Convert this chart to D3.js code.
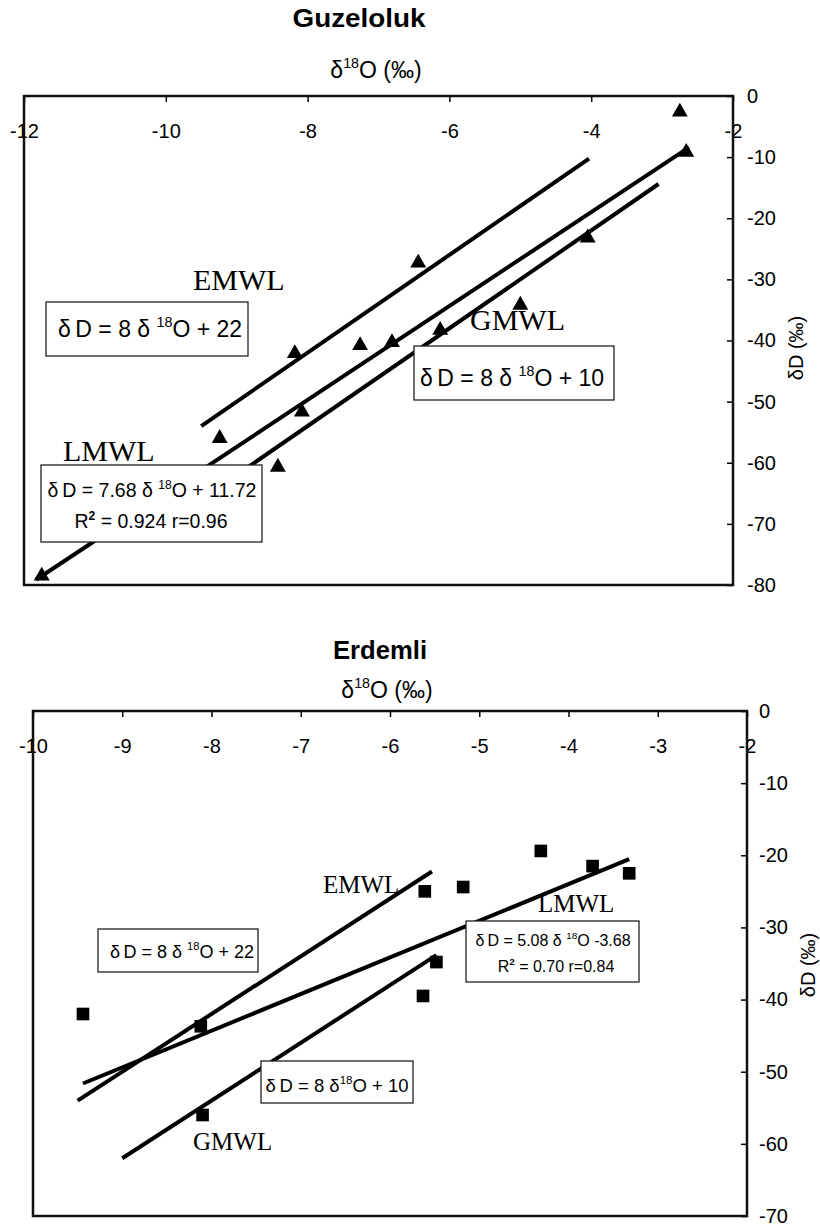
<!DOCTYPE html>
<html>
<head>
<meta charset="utf-8">
<script src="https://cdn.jsdelivr.net/npm/d3@7/dist/d3.min.js"></script>
<style>
  body { margin: 0; background: #fff; }
  text { fill: #000; }
  .sans { font-family: "Liberation Sans", Arial, sans-serif; }
  .serif { font-family: "Liberation Serif", "Times New Roman", serif; }
</style>
</head>
<body>
<script>
// Guzeloluk samples (delta18O, deltaD)
var guzO = [-2.75, -2.66, -4.05, -6.44, -5.0, -6.13, -6.81, -7.26, -8.18, -8.08, -9.24, -8.42, -11.75];
var guzD = [-2.6, -9.2, -23.2, -27.3, -34.2, -38.3, -40.3, -40.8, -42.1, -51.7, -56.0, -60.7, -78.5];

// Erdemli samples
var erdO = [-9.44, -8.12, -8.10, -5.61, -5.18, -5.48, -5.63, -4.31, -3.73, -3.32];
var erdD = [-42.0, -43.7, -56.0, -25.0, -24.4, -34.8, -39.5, -19.4, -21.5, -22.5];

// water lines: dD = slope * d18O + intercept, drawn between from..to
var guzLineNames = ["EMWL", "LMWL", "GMWL"];
var guzSlope = [8, 7.68, 8];
var guzIntercept = [22, 11.72, 10];
var guzFrom = [-9.5, -11.83, -9.5];
var guzTo = [-4.03, -2.62, -3.05];

var erdLineNames = ["EMWL", "LMWL", "GMWL"];
var erdSlope = [8, 5.08, 8];
var erdIntercept = [22, -3.68, 10];
var erdFrom = [-9.5, -9.44, -9.0];
var erdTo = [-5.53, -3.32, -5.48];

// tick labels
var guzXTicks = [-12, -10, -8, -6, -4, -2];
var guzYTicks = [0, -10, -20, -30, -40, -50, -60, -70, -80];
var erdXTicks = [-10, -9, -8, -7, -6, -5, -4, -3, -2];
var erdYTicks = [0, -10, -20, -30, -40, -50, -60, -70];

var svg = d3.select("body").append("svg")
    .attr("width", 820)
    .attr("height", 1228);

svg.append("rect").attr("width", 820).attr("height", 1228).attr("fill", "#fff");

// text with superscript parts: [{t: "..."}, {t: "18", sup: true}, ...]
function richText(g, x, y, parts, size, anchor, cls) {
    var t = g.append("text")
        .attr("class", cls || "sans")
        .attr("x", x)
        .attr("y", y)
        .attr("font-size", size)
        .attr("text-anchor", anchor || "start");
    var up = false;
    parts.forEach(function(p) {
        var s = t.append("tspan").text(p.t);
        if (p.sup) {
            s.attr("dy", -0.42 * size).attr("font-size", size * 0.62);
            up = true;
        } else if (up) {
            s.attr("dy", 0.42 * size);
            up = false;
        }
        if (p.bold) s.attr("font-weight", "bold");
    });
    return t;
}

function box(g, x, y, w, h) {
    g.append("rect")
        .attr("x", x).attr("y", y)
        .attr("width", w).attr("height", h)
        .attr("fill", "#fff")
        .attr("stroke", "#222")
        .attr("stroke-width", 1.3);
}

function drawChart(opt) {
    var g = svg.append("g");
    var x = d3.scaleLinear().domain(opt.xDomain).range([opt.left, opt.right]);
    var y = d3.scaleLinear().domain(opt.yDomain).range([opt.top, opt.bottom]);

    // lines
    var lineData = opt.names.map(function(n, i) {
        return [
            [opt.from[i], opt.slope[i] * opt.from[i] + opt.intercept[i]],
            [opt.to[i], opt.slope[i] * opt.to[i] + opt.intercept[i]]
        ];
    });
    var line = d3.line().x(function(d) { return x(d[0]); }).y(function(d) { return y(d[1]); });
    g.selectAll(".wl")
        .data(lineData)
        .enter().append("path")
        .attr("class", "wl")
        .attr("d", line)
        .attr("fill", "none")
        .attr("stroke", "#000")
        .attr("stroke-width", 4);

    // points
    var sym = d3.symbol().type(opt.symbol).size(opt.symbolSize);
    g.selectAll(".pt")
        .data(opt.xs.map(function(v, i) { return [v, opt.ys[i]]; }))
        .enter().append("path")
        .attr("class", "pt")
        .attr("d", sym)
        .attr("transform", function(d) { return "translate(" + x(d[0]) + "," + y(d[1]) + ")"; })
        .attr("fill", "#000");

    // annotations
    opt.annotate(g);

    // x axis along the top, labels inside the frame
    var xAxis = d3.axisBottom(x)
        .tickValues(opt.xTicks)
        .tickFormat(function(d) { return String(d); })
        .tickSizeInner(6)
        .tickSizeOuter(0)
        .tickPadding(opt.xPad);
    var gx = g.append("g")
        .attr("transform", "translate(0," + opt.top + ")")
        .call(xAxis);
    gx.select(".domain").remove();
    gx.selectAll("line").attr("stroke", "#000").attr("stroke-width", 1.5);
    gx.selectAll("text").attr("class", "sans").attr("font-size", 20).attr("fill", "#000");

    // y axis on the right
    var yAxis = d3.axisRight(y)
        .tickValues(opt.yTicks)
        .tickFormat(function(d) { return String(d); })
        .tickSizeInner(-6)
        .tickSizeOuter(0)
        .tickPadding(opt.yPad);
    var gy = g.append("g")
        .attr("transform", "translate(" + opt.right + ",0)")
        .call(yAxis);
    gy.select(".domain").remove();
    gy.selectAll("line").attr("stroke", "#000").attr("stroke-width", 1.5);
    gy.selectAll("text").attr("class", "sans").attr("font-size", 20).attr("fill", "#000");

    // frame
    g.append("rect")
        .attr("x", opt.left).attr("y", opt.top)
        .attr("width", opt.right - opt.left)
        .attr("height", opt.bottom - opt.top)
        .attr("fill", "none")
        .attr("stroke", "#111")
        .attr("stroke-width", 2.5);

    // titles
    g.append("text")
        .attr("class", "sans")
        .attr("x", opt.titleX).attr("y", opt.titleY)
        .attr("text-anchor", "middle")
        .attr("font-size", 25)
        .attr("font-weight", "bold")
        .attr("textLength", opt.titleW)
        .attr("lengthAdjust", "spacingAndGlyphs")
        .text(opt.title);
    richText(g, opt.xLabelX, opt.xLabelY, [{t: "\u03b4"}, {t: "18", sup: true}, {t: "O (\u2030)"}], 23, "middle");
    g.append("text")
        .attr("class", "sans")
        .attr("transform", "translate(" + opt.yLabelX + "," + opt.yLabelY + ") rotate(-90)")
        .attr("text-anchor", "middle")
        .attr("font-size", 20)
        .text("\u03b4D (\u2030)");
}

// Guzeloluk
drawChart({
    xDomain: [-12, -2], yDomain: [0, -80],
    left: 24, right: 733, top: 96, bottom: 585,
    xs: guzO, ys: guzD,
    names: guzLineNames, slope: guzSlope, intercept: guzIntercept, from: guzFrom, to: guzTo,
    symbol: d3.symbolTriangle, symbolSize: 110,
    xTicks: guzXTicks, yTicks: guzYTicks,
    xPad: 22, yPad: 14,
    title: "Guzeloluk", titleX: 359, titleY: 27, titleW: 133,
    xLabelX: 376, xLabelY: 78,
    yLabelX: 803, yLabelY: 348,
    annotate: function(g) {
        g.append("text").attr("class", "serif").attr("x", 193).attr("y", 290).attr("font-size", 30).text("EMWL");
        box(g, 46, 302, 202, 54);
        richText(g, 150, 337, [{t: "\u03b4\u2009D = 8 \u03b4 "}, {t: "18", sup: true}, {t: "O + 22"}], 23, "middle");
        g.append("text").attr("class", "serif").attr("x", 470).attr("y", 330).attr("font-size", 30).text("GMWL");
        box(g, 414, 346, 200, 54);
        richText(g, 512, 386, [{t: "\u03b4\u2009D = 8 \u03b4 "}, {t: "18", sup: true}, {t: "O + 10"}], 23, "middle");
        g.append("text").attr("class", "serif").attr("x", 63).attr("y", 461).attr("font-size", 30).text("LMWL");
        box(g, 41, 465, 221, 77);
        richText(g, 152, 497, [{t: "\u03b4\u2009D = 7.68  \u03b4 "}, {t: "18", sup: true}, {t: "O + 11.72"}], 19.5, "middle");
        richText(g, 151, 528, [{t: "R"}, {t: "2", sup: true, bold: true}, {t: " = 0.924 r=0.96"}], 19.5, "middle");
    }
});

// Erdemli
drawChart({
    xDomain: [-10, -2], yDomain: [0, -70],
    left: 33, right: 747, top: 711, bottom: 1216,
    xs: erdO, ys: erdD,
    names: erdLineNames, slope: erdSlope, intercept: erdIntercept, from: erdFrom, to: erdTo,
    symbol: d3.symbolSquare, symbolSize: 160,
    xTicks: erdXTicks, yTicks: erdYTicks,
    xPad: 22, yPad: 12,
    title: "Erdemli", titleX: 380, titleY: 659, titleW: 94,
    xLabelX: 387, xLabelY: 698,
    yLabelX: 815, yLabelY: 965,
    annotate: function(g) {
        g.append("text").attr("class", "serif").attr("x", 323).attr("y", 893).attr("font-size", 25).text("EMWL");
        box(g, 98, 929, 160, 43);
        richText(g, 182, 958, [{t: "\u03b4\u2009D = 8 \u03b4 "}, {t: "18", sup: true}, {t: "O + 22"}], 18, "middle");
        g.append("text").attr("class", "serif").attr("x", 538).attr("y", 912).attr("font-size", 25).text("LMWL");
        box(g, 466, 921, 173, 61);
        richText(g, 553, 946, [{t: "\u03b4\u2009D = 5.08  \u03b4 "}, {t: "18", sup: true}, {t: "O -3.68"}], 16, "middle");
        richText(g, 556, 972, [{t: "R"}, {t: "2", sup: true, bold: true}, {t: " = 0.70  r=0.84"}], 16, "middle");
        box(g, 261, 1061, 152, 42);
        richText(g, 337, 1092, [{t: "\u03b4\u2009D = 8 \u03b4"}, {t: "18", sup: true}, {t: "O + 10"}], 18.5, "middle");
        g.append("text").attr("class", "serif").attr("x", 193).attr("y", 1150).attr("font-size", 25).text("GMWL");
    }
});
</script>
</body>
</html>
